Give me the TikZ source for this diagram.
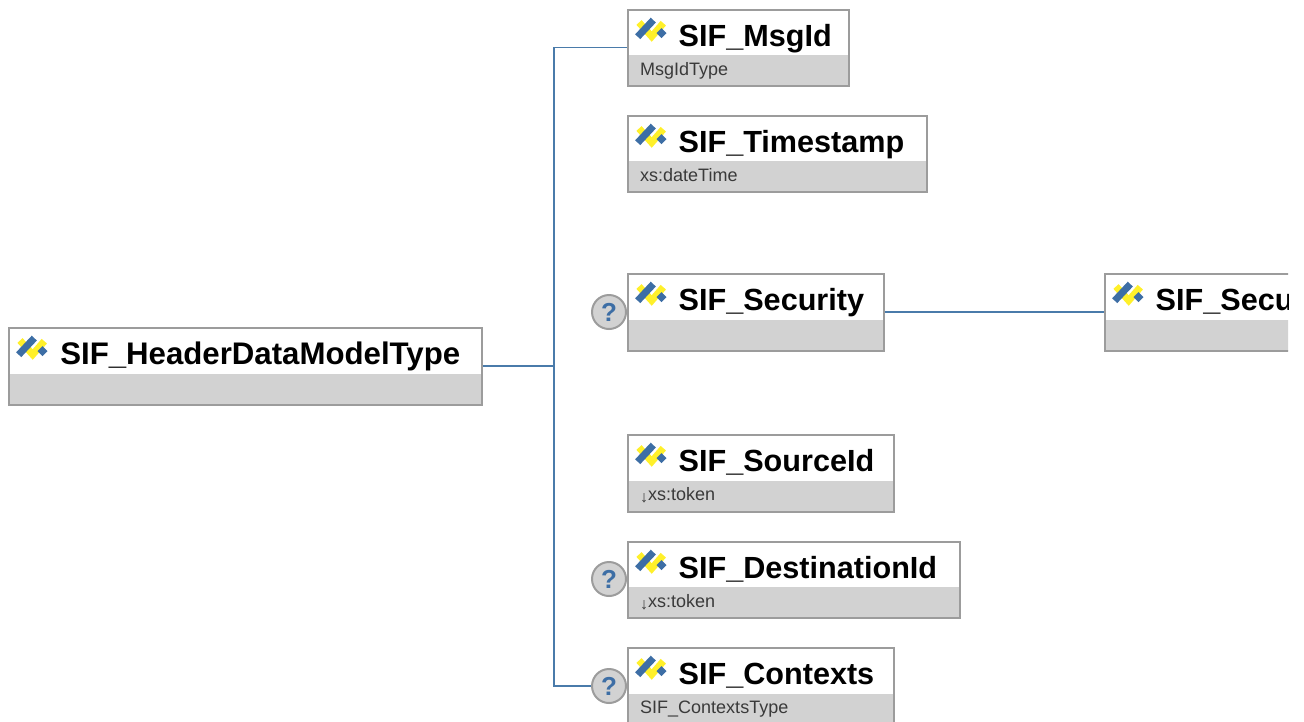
\documentclass[tikz,border=0pt]{standalone}
\usepackage{fontspec}
\setmainfont{Liberation Sans}
\definecolor{boxgrey}{HTML}{D2D2D2}
\definecolor{edgegrey}{HTML}{9C9C9C}
\definecolor{linkblue}{HTML}{4A7BAA}
\definecolor{iconblue}{HTML}{3D6EA5}
\definecolor{iconyellow}{HTML}{FFF02A}
\definecolor{typeink}{HTML}{3A3A3A}
\tikzset{
  elem/.style={draw=edgegrey,line width=2pt,fill=white,inner sep=0pt,anchor=north west,
    path picture={\fill[boxgrey] (path picture bounding box.south west) rectangle ([yshift=31pt]path picture bounding box.east |- path picture bounding box.south);}},
  titletext/.style={font=\bfseries\fontsize{30.6}{31}\selectfont,text=black,anchor=base west,inner sep=0pt},
  typetext/.style={font=\fontsize{18}{18}\selectfont,text=typeink,anchor=base west,inner sep=0pt},
  link/.style={draw=linkblue,line width=1.5pt},
  optq/.style={circle,draw=edgegrey,line width=2pt,fill=boxgrey,minimum size=34pt,inner sep=0pt,
    text=iconblue,font=\bfseries\fontsize{26}{26}\selectfont},
  icon/.pic={
    \draw[iconyellow,line width=7pt] (3.5,4.5) -- (16.2,18.5) -- (27.8,5.2);
    \draw[iconblue,line width=7pt] (2.2,18.7) -- (17.8,2.1);
    \fill[iconblue] (26,10.2) -- (31,15.2) -- (26,20.2) -- (21,15.2) -- cycle;
  }
}
\newcommand{\elembox}[7]{% name, x, y, width, height, title, type
  \node[elem,minimum width={#4pt-1.5pt},minimum height={#5pt-0.6pt}] (#1) at (#2,{#3-0.5}) {};
  \pic at ([shift={(8.5,9.5)}]#1.north west) {icon};
  \node[titletext] (#1title) at ([shift={(51.5,38)}]#1.north west) {#6};
  \node[typetext] (#1type) at ([shift={(13,67)}]#1.north west) {#7};
}
\newcommand{\downmark}{\raisebox{-2pt}{\fontsize{16}{16}\selectfont↓}}
\begin{document}
\begin{tikzpicture}[x=1pt,y=-1pt]
\useasboundingbox (0,0) rectangle (1304,721);
\fill[white] (0,0) rectangle (1304,721);
\begin{scope}
\clip (0,0) rectangle (1288,721);
\node[optq] (qsec) at (609,312) {?};
\node[optq] (qdest) at (609,579) {?};
\node[optq] (qctx) at (609,686) {?};
\elembox{main}{8}{327}{474}{78}{\hspace{0.6pt}\fontsize{31.2}{31}\selectfont SIF\_HeaderDataModelType}{}
\elembox{msgid}{627}{9}{222}{77}{SIF\_MsgId}{MsgIdType}
\elembox{stamp}{627}{115}{300}{77}{SIF\_Timestamp}{xs:dateTime}
\elembox{sec}{627}{273}{257}{78}{SIF\_Security}{}
\elembox{source}{627}{434}{267}{78}{SIF\_SourceId}{\downmark xs:token}
\elembox{dest}{627}{541}{333}{77}{SIF\_DestinationId}{\downmark xs:token}
\elembox{ctx}{627}{647}{267}{78}{SIF\_Contexts}{SIF\_ContextsType}
\elembox{secu}{1104}{273}{200}{78}{SIF\_Secu}{}
\coordinate (trunk) at (main.east -| 554,0);
\draw[link] (main.east) -- (trunk);
\draw[link] (trunk) |- (msgid.west);
\draw[link] (trunk) |- (qctx.west);
\draw[link] (sec.east) -- (secu.west);
\end{scope}
\end{tikzpicture}
\end{document}
